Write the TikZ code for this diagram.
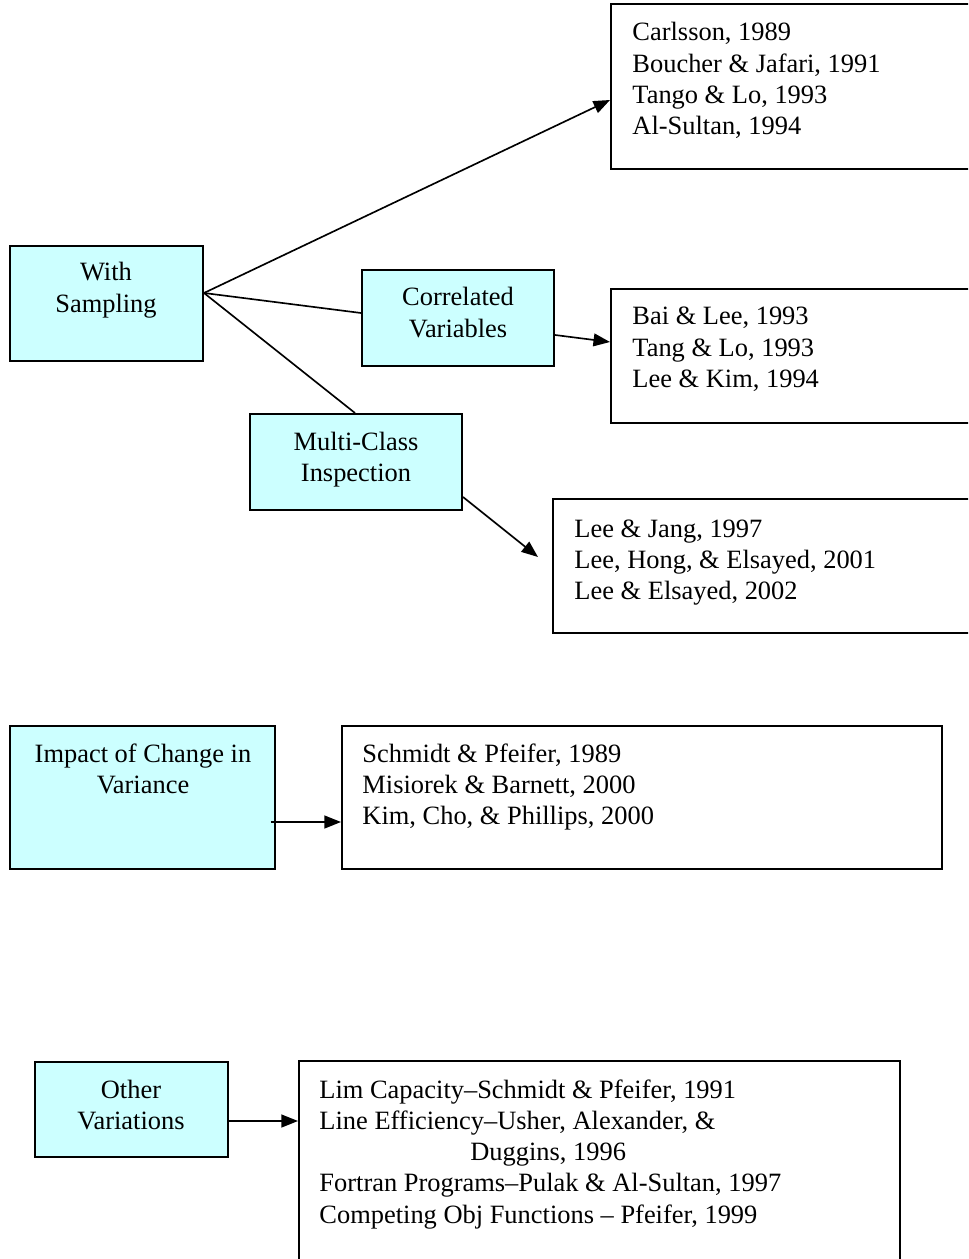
\documentclass[tikz,border=0pt]{standalone}
\usepackage{fontspec}
\setmainfont{Liberation Serif}
\usetikzlibrary{arrows.meta,fit}
\definecolor{cyanbg}{HTML}{CCFFFF}
\begin{document}
\begin{tikzpicture}[x=0.454pt,y=-0.454pt,
  catbox/.style={draw, line width=0.9pt, fill=cyanbg, inner sep=0pt},
  refbox/.style={draw, line width=0.9pt, fill=white, inner sep=0pt},
  txt/.style={inner sep=0pt, font=\fontsize{12}{14.2}\selectfont},
  conn/.style={line width=0.75pt},
  arr/.style={conn, -{Triangle[length=7.5pt,width=5.8pt]}}]
\useasboundingbox (0,0) rectangle (968,1259);
\clip (0,0) rectangle (968,1259);
\fill[white] (0,0) rectangle (968,1259);

% boxes
\node[refbox, fit={(611,4)(1000,169)}] (r1) {};
\node[catbox, fit={(10,246)(203,361)}] (ws) {};
\node[catbox, fit={(362,270)(554,366)}] (cv) {};
\node[refbox, fit={(611,289)(1000,423)}] (r2) {};
\node[catbox, fit={(250,414)(462,510)}] (mc) {};
\node[refbox, fit={(553,499)(1000,633)}] (r3) {};
\node[catbox, fit={(10,726)(275,869)}] (iv) {};
\node[refbox, fit={(342,726)(942,869)}] (r4) {};
\node[catbox, fit={(35,1062)(228,1157)}] (ov) {};
\node[refbox, fit={(299,1061)(900,1300)}] (r5) {};

% labels
\node[txt, anchor=base] (wst) at (106,281) {\begin{tabular}[t]{@{}c@{}}With\\Sampling\end{tabular}};
\node[txt, anchor=base] (cvt) at (458,306) {\begin{tabular}[t]{@{}c@{}}Correlated\\Variables\end{tabular}};
\node[txt, anchor=base] (mct) at (356,450) {\begin{tabular}[t]{@{}c@{}}Multi-Class\\Inspection\end{tabular}};
\node[txt, anchor=base] (ivt) at (143,762) {\begin{tabular}[t]{@{}c@{}}Impact of Change in\\Variance\end{tabular}};
\node[txt, anchor=base] (ovt) at (131,1098) {\begin{tabular}[t]{@{}c@{}}Other\\Variations\end{tabular}};

\node[txt, anchor=base west] (r1t) at (632,41) {\begin{tabular}[t]{@{}l@{}}Carlsson, 1989\\Boucher \& Jafari, 1991\\Tango \& Lo, 1993\\Al-Sultan, 1994\end{tabular}};
\node[txt, anchor=base west] (r2t) at (632,325) {\begin{tabular}[t]{@{}l@{}}Bai \& Lee, 1993\\Tang \& Lo, 1993\\Lee \& Kim, 1994\end{tabular}};
\node[txt, anchor=base west] (r3t) at (574,537) {\begin{tabular}[t]{@{}l@{}}Lee \& Jang, 1997\\Lee, Hong, \& Elsayed, 2001\\Lee \& Elsayed, 2002\end{tabular}};
\node[txt, anchor=base west] (r4t) at (362,762) {\begin{tabular}[t]{@{}l@{}}Schmidt \& Pfeifer, 1989\\Misiorek \& Barnett, 2000\\Kim, Cho, \& Phillips, 2000\end{tabular}};
\node[txt, anchor=base west] (r5t) at (319,1098) {\begin{tabular}[t]{@{}l@{}}Lim Capacity–Schmidt \& Pfeifer, 1991\\Line Efficiency–Usher, Alexander, \&\\\hspace*{68.5pt}Duggins, 1996\\Fortran Programs–Pulak \& Al-Sultan, 1997\\Competing Obj Functions – Pfeifer, 1999\end{tabular}};

% connectors
\coordinate (mcend) at (538,557);
\draw[conn] (ws.east |- 0,293) -- (cv.west |- 0,313);
\draw[conn] (ws.east |- 0,293) -- (mc.north -| 355,0);
\draw[arr] (ws.east |- 0,293) -- (r1.west |- 0,100);
\draw[arr] (cv.east |- 0,335) -- (r2.west |- 0,342);
\draw[arr] (mc.east |- 0,497) -- (mcend);
\draw[arr] ([xshift=-2.3pt]iv.east |- 0,822) -- (r4.west |- 0,822);
\draw[arr] (ov.east |- 0,1121) -- (r5.west |- 0,1121);
\end{tikzpicture}
\end{document}
